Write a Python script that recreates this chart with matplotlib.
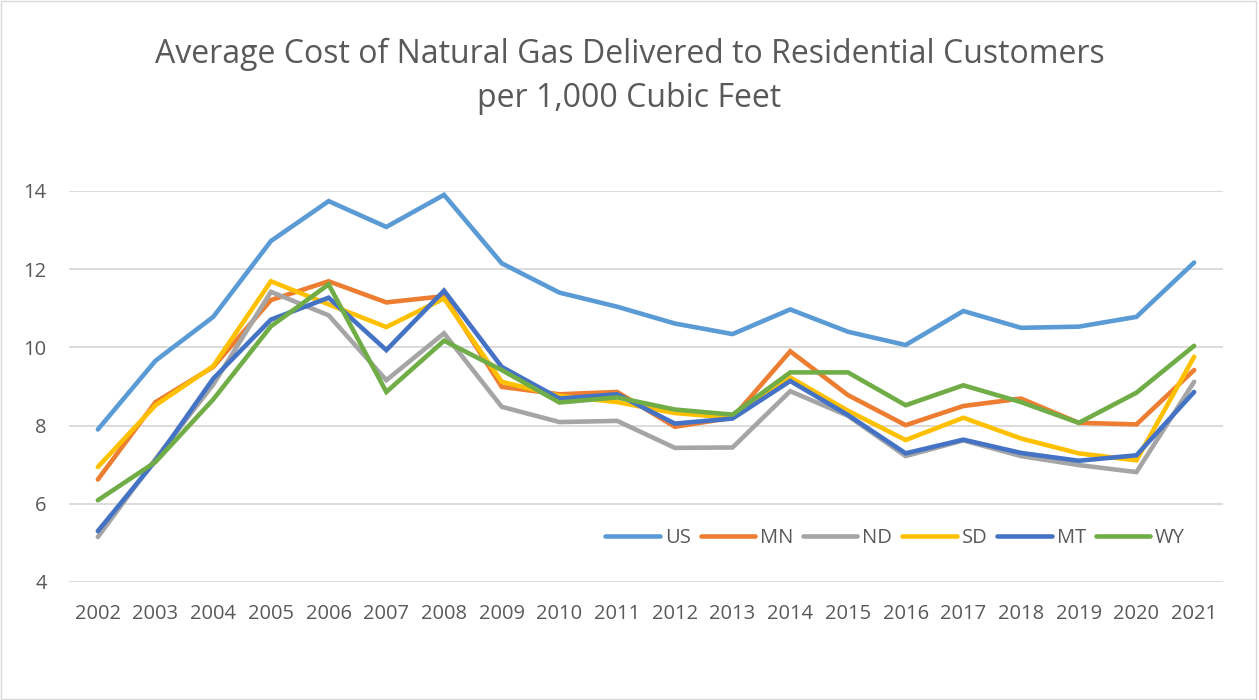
import numpy as np
import matplotlib.pyplot as plt
from matplotlib.patches import Rectangle

years = list(range(2002, 2022))
us = [7.90, 9.66, 10.78, 12.72, 13.74, 13.08, 13.90, 12.15, 11.40, 11.04,
      10.61, 10.34, 10.97, 10.40, 10.06, 10.93, 10.50, 10.53, 10.78, 12.17]
mn = [6.62, 8.60, 9.50, 11.21, 11.69, 11.15, 11.31, 8.99, 8.80, 8.86,
      7.97, 8.20, 9.90, 8.78, 8.01, 8.50, 8.69, 8.07, 8.03, 9.42]
nd = [5.15, 7.15, 9.05, 11.42, 10.82, 9.16, 10.36, 8.48, 8.09, 8.12,
      7.43, 7.44, 8.88, 8.25, 7.22, 7.62, 7.22, 6.99, 6.81, 9.12]
sd = [6.94, 8.52, 9.52, 11.69, 11.10, 10.52, 11.25, 9.12, 8.76, 8.60,
      8.32, 8.20, 9.23, 8.38, 7.63, 8.20, 7.67, 7.29, 7.11, 9.76]
mt = [5.30, 7.10, 9.20, 10.71, 11.27, 9.93, 11.45, 9.50, 8.69, 8.80,
      8.05, 8.18, 9.14, 8.27, 7.29, 7.64, 7.30, 7.10, 7.24, 8.86]
wy = [6.09, 7.07, 8.67, 10.54, 11.61, 8.86, 10.17, 9.42, 8.59, 8.72,
      8.41, 8.28, 9.36, 9.36, 8.52, 9.03, 8.60, 8.07, 8.84, 10.04]

series = [('US', us, '#5B9BD5'), ('MN', mn, '#ED7D31'), ('ND', nd, '#A5A5A5'),
          ('SD', sd, '#FFC000'), ('MT', mt, '#4472C4'), ('WY', wy, '#70AD47')]

plt.rcParams['font.family'] = ['Open Sans', 'DejaVu Sans']
text_color = '#595959'

fig = plt.figure(figsize=(12.59, 7), dpi=100)
ax = fig.add_axes([0.0548, 0.1686, 0.9166, 0.5586])

for name, vals, col in series:
    ax.plot(years, vals, color=col, linewidth=3.3, label=name,
            solid_capstyle='round', solid_joinstyle='miter')

ax.set_xlim(2001.5, 2021.5)
ax.set_ylim(4, 14)
ax.set_yticks(range(4, 15, 2))
ax.set_xticks(years)
ax.set_xticklabels([str(y) for y in years])
ax.grid(axis='y', color='#D9D9D9', linewidth=1.3)
ax.set_axisbelow(True)
for s in ax.spines.values():
    s.set_visible(False)
ax.tick_params(length=0, labelsize=14.5, colors=text_color)
ax.tick_params(axis='x', pad=15.5)
ax.tick_params(axis='y', pad=16)

# title, two lines placed at their baselines
fig.text(0.5, 1 - 63 / 700, 'Average Cost of Natural Gas Delivered to Residential Customers',
         ha='center', va='baseline', fontsize=23, color=text_color)
fig.text(0.5, 1 - 107 / 700, 'per 1,000 Cubic Feet',
         ha='center', va='baseline', fontsize=23, color=text_color)

ax.legend(loc='center', bbox_to_anchor=(0.716, 0.112), ncol=6, frameon=False,
          fontsize=14.5, handlelength=2.69, columnspacing=0.5, handletextpad=0.25,
          labelcolor=text_color)

fig.patches.append(Rectangle((0.001, 0.001), 0.997, 0.997, transform=fig.transFigure,
                             fill=False, edgecolor='#D9D9D9', linewidth=1))

fig.savefig('out.png', dpi=100)
